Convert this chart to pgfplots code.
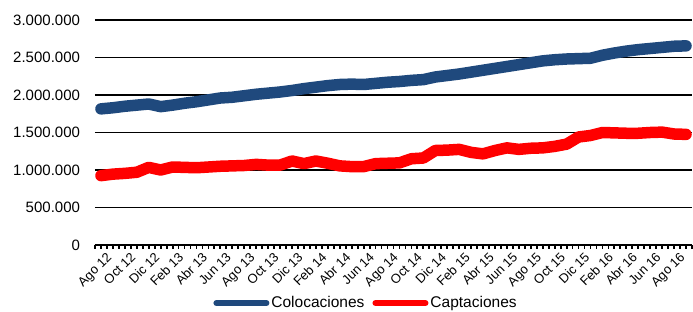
\documentclass[border=0pt]{standalone}
\usepackage{pgfplots}
\pgfplotsset{compat=1.18}
\usepackage{pgfplotstable}
\usepackage{fontspec}
\setmainfont{Liberation Sans}
\definecolor{colblue}{HTML}{1F497D}
\definecolor{capred}{HTML}{FF0000}
\pgfplotstableread{
i col cap
0 1815000 925000
1 1830000 945000
2 1850000 955000
3 1865000 970000
4 1880000 1035000
5 1845000 1000000
6 1865000 1040000
7 1890000 1035000
8 1910000 1030000
9 1935000 1040000
10 1960000 1050000
11 1970000 1055000
12 1990000 1060000
13 2010000 1075000
14 2025000 1065000
15 2040000 1065000
16 2060000 1120000
17 2085000 1085000
18 2105000 1120000
19 2125000 1090000
20 2140000 1055000
21 2145000 1045000
22 2140000 1045000
23 2155000 1085000
24 2170000 1090000
25 2180000 1095000
26 2195000 1150000
27 2205000 1160000
28 2240000 1260000
29 2260000 1265000
30 2280000 1275000
31 2305000 1235000
32 2330000 1215000
33 2355000 1260000
34 2380000 1295000
35 2405000 1275000
36 2430000 1290000
37 2455000 1295000
38 2470000 1315000
39 2480000 1345000
40 2485000 1440000
41 2490000 1460000
42 2530000 1500000
43 2560000 1495000
44 2585000 1490000
45 2605000 1490000
46 2620000 1500000
47 2635000 1505000
48 2650000 1480000
49 2655000 1475000
}\datatable
\begin{document}
\begin{tikzpicture}
\useasboundingbox (-95pt,-66pt) rectangle (598pt,245pt);
\begin{axis}[
  at={(0,0)}, anchor=south west,
  width=597pt, height=225pt, scale only axis,
  xmin=-0.5, xmax=49.5,
  ymin=0, ymax=3000000,
  ytick={0,500000,...,3000000},
  scaled y ticks=false,
  /pgf/number format/.cd, fixed, 1000 sep={.}, precision=0, assume math mode=true,
  /pgfplots/.cd,
  ymajorgrids,
  grid style={black, line width=1.2pt},
  axis x line*=bottom,
  axis y line*=left,
  y axis line style={draw=none},
  x axis line style={black, line width=2.5pt},
  ytick style={draw=none},
  xtick={0,2,...,48},
  xticklabels={Ago 12,Oct 12,Dic 12,Feb 13,Abr 13,Jun 13,Ago 13,Oct 13,Dic 13,Feb 14,Abr 14,Jun 14,Ago 14,Oct 14,Dic 14,Feb 15,Abr 15,Jun 15,Ago 15,Oct 15,Dic 15,Feb 16,Abr 16,Jun 16,Ago 16},
  minor xtick={-0.5,0,...,49.5},
  xtick style={black, line width=1.8pt},
  major tick length=3.5pt, minor tick length=3.5pt,
  tick align=outside,
  xticklabel style={font=\fontsize{13}{15}\selectfont, rotate=45, anchor=north east, inner sep=0.5pt, yshift=-5pt, xshift=2pt},
  yticklabel style={font=\fontsize{15}{18}\selectfont, xshift=-8pt},
  legend columns=2,
  legend style={draw=none, fill=none, at={(0.454,-0.258)}, anchor=center,
    font=\fontsize{15.5}{18}\selectfont,
    /tikz/every even column/.append style={column sep=6pt}},
  legend image code/.code={\draw[#1, line width=6pt, line cap=round] (0pt,0pt) -- (50pt,0pt);},
]
\addplot[colblue, line width=11.5pt, line cap=round, line join=round] table[x=i, y=col] {\datatable};
\addlegendentry{Colocaciones}
\addplot[capred, line width=11.5pt, line cap=round, line join=round] table[x=i, y=cap] {\datatable};
\addlegendentry{Captaciones}
\end{axis}
\end{tikzpicture}
\end{document}
